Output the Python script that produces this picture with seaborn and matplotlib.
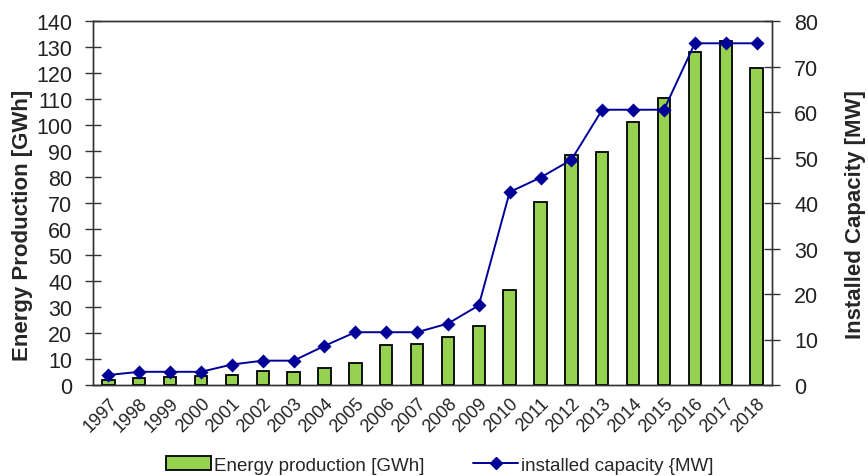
import matplotlib
matplotlib.use("Agg")
import matplotlib.pyplot as plt
import seaborn as sns
import pandas as pd
from matplotlib.patches import Patch
from matplotlib.lines import Line2D

years = [str(y) for y in range(1997, 2019)]
energy_gwh = [1.9, 2.8, 2.9, 3.3, 4.0, 5.4, 5.1, 6.4, 8.3, 15.3, 15.9, 18.6,
              22.6, 36.7, 70.2, 88.4, 89.8, 101.2, 110.2, 128.1, 132.5, 122.0]
capacity_mw = [2.2, 2.9, 2.9, 2.9, 4.5, 5.35, 5.35, 8.6, 11.6, 11.6, 11.6, 13.5,
               17.5, 42.4, 45.6, 49.5, 60.5, 60.5, 60.5, 75.1, 75.1, 75.1]
left_ticks = list(range(0, 141, 10))
right_ticks = list(range(0, 81, 10))

df = pd.DataFrame({"year": years, "energy": energy_gwh, "capacity": capacity_mw})

sns.set_theme(style="white")
plt.rcParams["font.family"] = ["Liberation Sans", "DejaVu Sans"]

fig = plt.figure(figsize=(8.68, 4.77), dpi=100)
ax = fig.add_axes([93 / 868, 1 - 386 / 477, (772 - 93) / 868, (386 - 22) / 477])

bar_green = "#96d150"
navy = "#000099"
txt = "#222222"

sns.barplot(data=df, x="year", y="energy", ax=ax, color=bar_green,
            edgecolor="black", linewidth=1.3, width=0.40, saturation=1)
ax.set_xlim(-0.5, len(years) - 0.5)
ax.set_ylim(0, 140)
ax.set_yticks(left_ticks)
ax.set_yticklabels([str(t) for t in left_ticks], fontsize=15.5, color=txt)
ax.set_xticks(range(len(years)))
ax.set_xticklabels(years, rotation=45, ha="right", rotation_mode="anchor",
                   fontsize=13, color=txt)
ax.tick_params(axis="x", length=0, pad=7)
ax.set_xticks([i + 0.5 for i in range(-1, len(years))], minor=True)
ax.tick_params(axis="x", which="minor", direction="inout", length=9, width=1, color="#333333")
ax.tick_params(axis="y", direction="inout", length=12, width=1, color="#333333", pad=9)
ax.set_xlabel("")
ax.set_ylabel("Energy Production [GWh]", fontsize=16, fontweight="bold")
ax.yaxis.set_label_coords(-0.088, 0.44)
for s in ax.spines.values():
    s.set_color("#333333")
    s.set_linewidth(1.0)

ax2 = ax.twinx()
sns.pointplot(data=df, x="year", y="capacity", ax=ax2, color=navy,
              markers="D", markersize=6.5, linewidth=1.4)
ax2.set_xlim(-0.5, len(years) - 0.5)
ax2.set_ylim(0, 80)
ax2.set_yticks(right_ticks)
ax2.set_yticklabels([str(t) for t in right_ticks], fontsize=15.5, color=txt)
ax2.tick_params(axis="y", direction="inout", length=12, width=1, color="#333333", pad=10)
ax2.set_ylabel("Installed Capacity [MW]", fontsize=16, fontweight="bold", rotation=90)
ax2.yaxis.set_label_coords(1.107, 0.47)
ax2.set_xlabel("")
for s in ax2.spines.values():
    s.set_color("#333333")
    s.set_linewidth(1.0)

handles = [Patch(facecolor=bar_green, edgecolor="black", linewidth=1.3),
           Line2D([0], [0], color=navy, marker="D", markersize=6.5, linewidth=1.4)]
fig.legend(handles, ["Energy production [GWh]", "installed capacity {MW]"],
           loc="center", bbox_to_anchor=(440 / 868, 1 - 466 / 477), ncol=2,
           frameon=False, fontsize=13.5, handlelength=2.4, handletextpad=0.15,
           columnspacing=2.6)

fig.savefig("out.png", dpi=100)
